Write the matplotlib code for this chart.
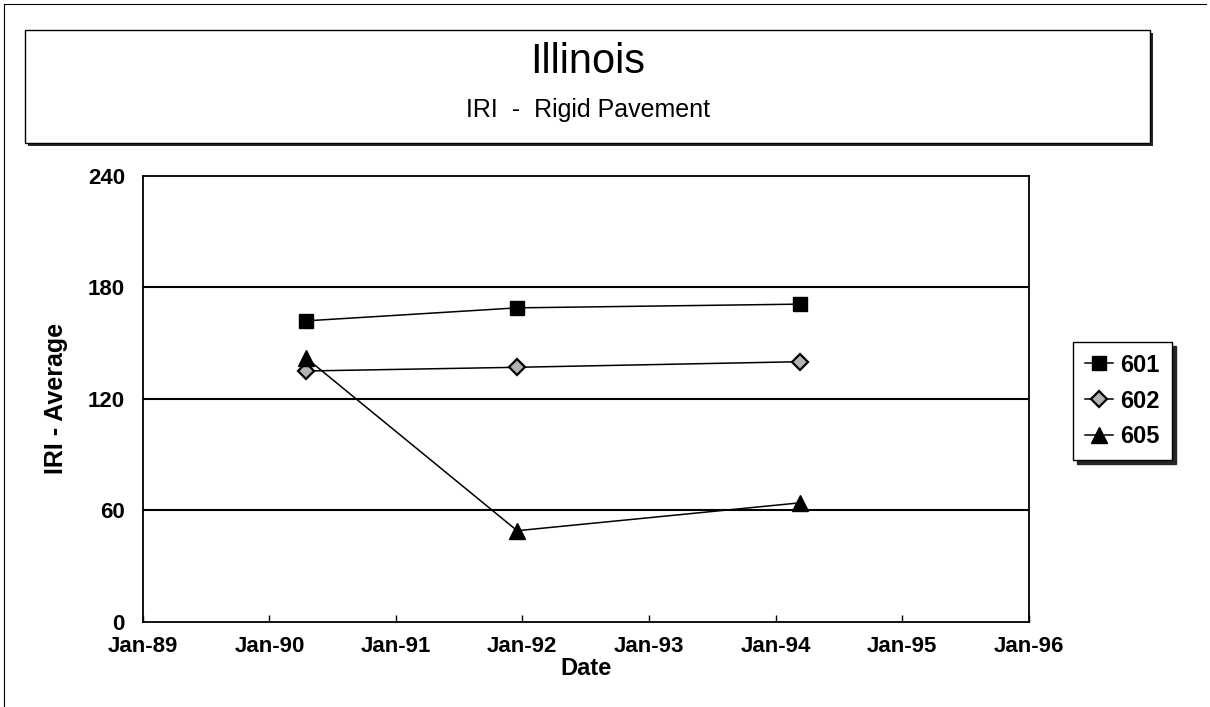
import datetime as dt

import matplotlib
matplotlib.use("Agg")
import matplotlib.pyplot as plt
import matplotlib.dates as mdates
from matplotlib.patches import Rectangle
from matplotlib.lines import Line2D

plt.rcParams['font.family'] = ['Liberation Sans', 'DejaVu Sans']

# dados
datas = [dt.date(1990, 4, 17), dt.date(1991, 12, 17), dt.date(1994, 3, 12)]
iri_601 = [162, 169, 171]
iri_602 = [135, 137, 140]
iri_605 = [142, 49, 64]
series = ["601", "602", "605"]
y_ticks = [0, 60, 120, 180, 240]

fig = plt.figure(figsize=(12.1, 7.07), dpi=100)

# moldura externa (so topo e esquerda aparecem)
fig.add_artist(Line2D([0.003, 0.997], [0.995, 0.995], color="black", lw=0.8))
fig.add_artist(Line2D([0.003, 0.003], [0.0, 0.995], color="black", lw=0.8))

# caixa do titulo com sombra
bx0, by0, bw, bh = 25 / 1210, 1 - 143 / 707, 1125 / 1210, 113 / 707
fig.add_artist(Rectangle((bx0 + 3 / 1210, by0 - 3 / 707), bw, bh,
                         transform=fig.transFigure, facecolor="0.15",
                         edgecolor="none"))
fig.add_artist(Rectangle((bx0, by0), bw, bh, transform=fig.transFigure,
                         facecolor="white", edgecolor="black", lw=1.0))
fig.text(bx0 + bw / 2, 1 - 62 / 707, "Illinois", ha="center", va="center",
         fontsize=30)
fig.text(bx0 + bw / 2, 1 - 110 / 707, "IRI  -  Rigid Pavement",
         ha="center", va="center", fontsize=18)

ax = fig.add_axes([143 / 1210, 1 - 621.7 / 707, 885.5 / 1210, 445.7 / 707])

ax.plot(datas, iri_601, color="black", lw=1.1, marker="s", markersize=10,
        markerfacecolor="black", markeredgecolor="black", label=series[0])
ax.plot(datas, iri_602, color="black", lw=1.1, marker="D", markersize=8.5,
        markerfacecolor="0.7", markeredgecolor="black", markeredgewidth=1.6,
        label=series[1])
ax.plot(datas, iri_605, color="black", lw=1.1, marker="^", markersize=11,
        markerfacecolor="black", markeredgecolor="black", label=series[2])

ax.set_xlim(dt.date(1989, 1, 1), dt.date(1996, 1, 1))
ax.set_ylim(0, 240)
ax.set_yticks(y_ticks)
for v in y_ticks[1:-1]:
    ax.axhline(v, color="black", lw=1.5, zorder=1)

ax.xaxis.set_major_locator(mdates.YearLocator())
ax.xaxis.set_major_formatter(mdates.DateFormatter("%b-%y"))
ax.tick_params(axis="x", direction="in", length=5, width=1, pad=10,
               labelsize=16)
ax.tick_params(axis="y", length=0, pad=13, labelsize=16)
for lab in ax.get_xticklabels() + ax.get_yticklabels():
    lab.set_fontweight("bold")
for s in ax.spines.values():
    s.set_linewidth(1.3)

ax.set_xlabel("Date", fontsize=17, fontweight="bold", labelpad=0)
ax.set_ylabel("IRI - Average", fontsize=18, fontweight="bold", labelpad=14)

leg = ax.legend(loc="center left", bbox_to_anchor=(1073 / 1210, 1 - 401 / 707),
                bbox_transform=fig.transFigure, frameon=True, fancybox=False,
                shadow={"color": "0.15", "alpha": 1, "ox": 3, "oy": -3},
                edgecolor="black", handlelength=1.2, handletextpad=0.3,
                labelspacing=0.55, borderpad=0.5, borderaxespad=0,
                prop={"size": 17, "weight": "bold"})
leg.get_frame().set_linewidth(1.0)

plt.savefig("out.png", dpi=100)
print("Feito.")
